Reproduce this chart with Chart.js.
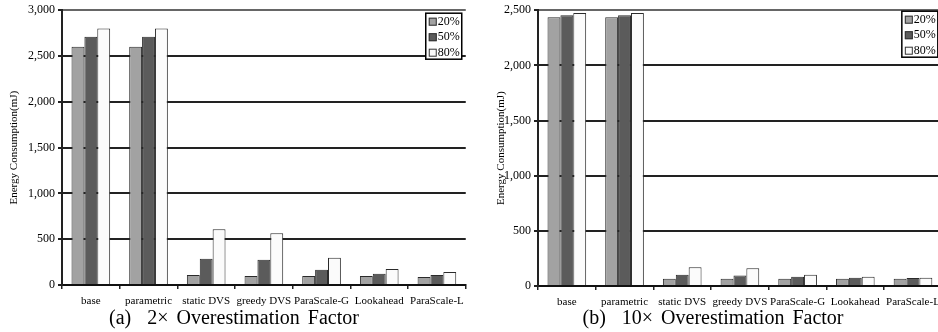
<!DOCTYPE html>
<html lang="en">
<head>
  <meta charset="UTF-8" />
  <title>Energy Consumption</title>
  <style>
    html, body {
      margin: 0;
      padding: 0;
      background: #fff;
      width: 938px;
      height: 332px;
      overflow: hidden;
    }
    .panel {
      position: absolute;
      top: 0;
    }
    .caption {
      position: absolute;
      top: 306px;
      font-family: 'Liberation Serif', 'Times New Roman', serif;
      font-size: 20px;
      line-height: 22px;
      word-spacing: 3px;
      white-space: pre;
      color: #000;
      transform: translateX(-50%);
    }
  </style>
  <script src="https://cdn.jsdelivr.net/npm/chart.js"></script>
</head>
<body>
  <div class="panel" style="left:0px"><canvas id="chartA" width="470" height="310"></canvas></div>
  <div class="panel" style="left:470px"><canvas id="chartB" width="476" height="311"></canvas></div>
  <div class="caption" style="left:234px">(a)  2× Overestimation Factor</div>
  <div class="caption" style="left:713px">(b)  10× Overestimation Factor</div>
  <script>
    // categories and series
    const categories = ['base', 'parametric', 'static DVS', 'greedy DVS', 'ParaScale-G', 'Lookahead', 'ParaScale-L'];
    const seriesLabels = ['20%', '50%', '80%'];
    const seriesColors = ['#a2a2a2', '#5b5b5b', '#fbfbfb'];

    // (a) 2x overestimation
    const a20 = [2600, 2600, 110, 98, 98, 98, 87];
    const a50 = [2710, 2710, 286, 275, 167, 123, 109];
    const a80 = [2800, 2800, 609, 565, 297, 174, 141];
    const aMax = 3000;

    // (b) 10x overestimation
    const b20 = [2435, 2435, 66, 66, 66, 66, 66];
    const b50 = [2455, 2455, 102, 96, 84, 75, 72];
    const b80 = [2475, 2475, 171, 162, 102, 84, 75];
    const bMax = 2500;

    const tickStep = 500;
    const serif = "'Liberation Serif', 'Times New Roman', serif";

    // boxed legend in the top right corner of the plot
    const boxLegend = {
      id: 'boxLegend',
      afterDraw(chart, args, opts) {
        const ctx = chart.ctx, area = chart.chartArea;
        const x = area.right - 40, y = area.top + opts.dy, w = 36, h = 46;
        ctx.save();
        ctx.fillStyle = '#fff';
        ctx.fillRect(x, y, w, h);
        ctx.strokeStyle = '#000';
        ctx.lineWidth = 1.5;
        ctx.strokeRect(x, y, w, h);
        ctx.font = '12px ' + serif;
        ctx.textBaseline = 'middle';
        chart.data.datasets.forEach((ds, i) => {
          const ry = y + 8.5 + i * 15.5;
          ctx.fillStyle = ds.backgroundColor;
          ctx.fillRect(x + 3, ry - 4, 8, 8);
          ctx.strokeStyle = '#333';
          ctx.lineWidth = 1;
          ctx.strokeRect(x + 3.5, ry - 3.5, 7, 7);
          ctx.fillStyle = '#000';
          ctx.fillText(ds.label, x + 12, ry);
        });
        ctx.restore();
      }
    };

    function makeChart(id, values, max, pad, yWidth, titlePad, legendDy) {
      const datasets = values.map((v, i) => ({
        label: seriesLabels[i],
        data: v,
        backgroundColor: seriesColors[i],
        borderColor: '#2a2a2a',
        borderWidth: 1,
        barPercentage: 1.0,
        categoryPercentage: 0.67
      }));
      return new Chart(document.getElementById(id), {
        type: 'bar',
        data: { labels: categories, datasets: datasets },
        plugins: [boxLegend],
        options: {
          responsive: false,
          animation: false,
          layout: { padding: pad },
          plugins: {
            legend: { display: false },
            tooltip: { enabled: false },
            boxLegend: { dy: legendDy }
          },
          scales: {
            x: {
              afterFit: s => { s.height = 25; },
              grid: { drawOnChartArea: false, offset: true, tickLength: 4, color: '#222', lineWidth: 1.5 },
              border: { color: '#111', width: 2 },
              ticks: { color: '#000', padding: 6, maxRotation: 0, autoSkip: false, font: { family: serif, size: 11 } }
            },
            y: {
              min: 0,
              max: max,
              afterFit: s => { s.width = yWidth; },
              grid: {
                color: c => (c.tick && c.tick.value === max) ? '#666' : '#222',
                lineWidth: 2,
                tickLength: 4,
                tickColor: '#222'
              },
              border: { color: '#222', width: 2 },
              ticks: { stepSize: tickStep, color: '#000', padding: 3, font: { family: serif, size: 12 } },
              title: {
                display: true,
                text: 'Energy Consumption(mJ)',
                color: '#000',
                padding: { top: titlePad, bottom: 0 },
                font: { family: serif, size: 11 }
              }
            }
          }
        }
      });
    }

    makeChart('chartA', [a20, a50, a80], aMax, { left: 0, top: 9, right: 3, bottom: 0 }, 62, 8, 3);
    makeChart('chartB', [b20, b50, b80], bMax, { left: 0, top: 7, right: 2, bottom: 0 }, 68, 25, 1);
  </script>
</body>
</html>
